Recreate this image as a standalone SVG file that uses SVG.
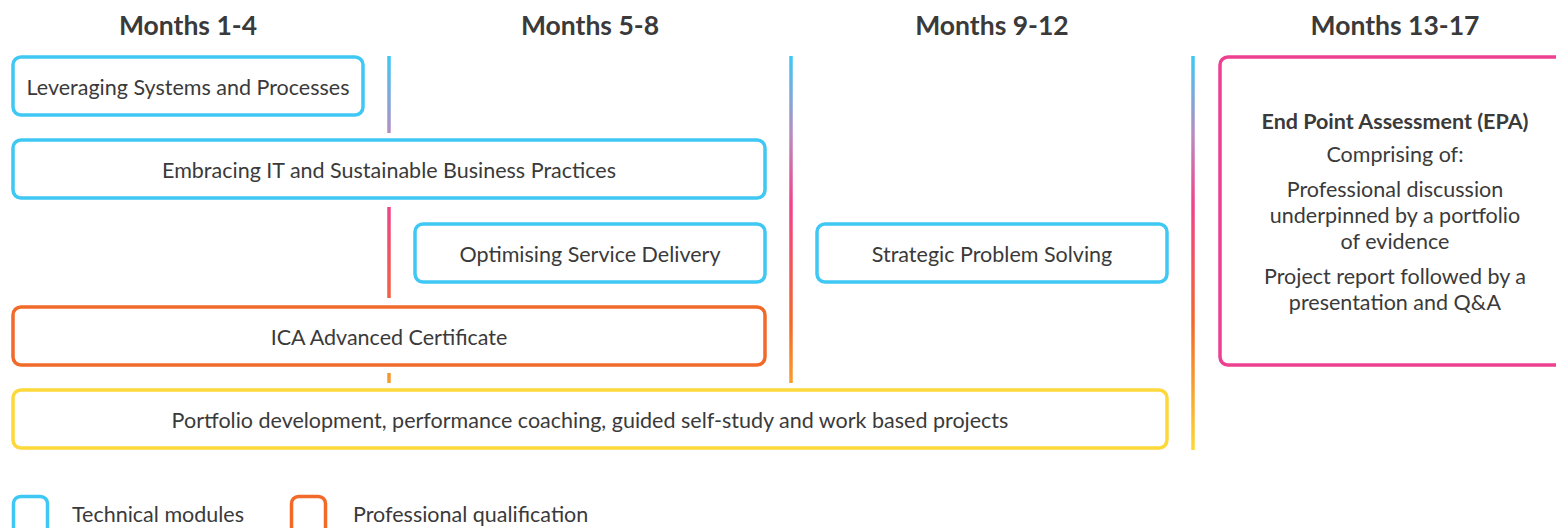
<svg xmlns="http://www.w3.org/2000/svg" width="1556" height="528" viewBox="0 0 1556 528">
  <defs>
    <linearGradient id="tl" gradientUnits="userSpaceOnUse" x1="0" y1="56" x2="0" y2="450">
      <stop offset="0" stop-color="#3cc8f5"/>
      <stop offset="0.2" stop-color="#b98cc0"/>
      <stop offset="0.38" stop-color="#f0428a"/>
      <stop offset="0.68" stop-color="#f26a2a"/>
      <stop offset="1" stop-color="#fdd835"/>
    </linearGradient>
  </defs>
  <style>
    .hdr { font-family: Lato, "Liberation Sans", sans-serif; font-weight: 700; font-size: 26.5px; fill: #3a3a3a; text-anchor: middle; }
    .lbl { font-family: Lato, "Liberation Sans", sans-serif; font-size: 21.5px; fill: #3a3a3a; text-anchor: middle; }
    .lgd { font-family: Lato, "Liberation Sans", sans-serif; font-size: 21.5px; fill: #3a3a3a; }
    .box { fill: #ffffff; stroke-width: 3.5; }
    .tech { stroke: #40c8f4; }
    .prof { stroke: #f26a2a; }
    .port { stroke: #fdd83a; }
    .epa { stroke: #ee4090; }
    .tl { stroke: url(#tl); stroke-width: 3.5; fill: none; }
  </style>

  <g id="headers">
    <text class="hdr" x="188" y="35">Months 1-4</text>
    <text class="hdr" x="590" y="35">Months 5-8</text>
    <text class="hdr" x="992" y="35">Months 9-12</text>
    <text class="hdr" x="1395" y="35">Months 13-17</text>
  </g>

  <g id="connectors">
    <line class="tl" x1="389" y1="56" x2="389" y2="133"/>
    <line class="tl" x1="389" y1="207" x2="389" y2="298"/>
    <line class="tl" x1="389" y1="373" x2="389" y2="383"/>
    <line class="tl" x1="791" y1="56" x2="791" y2="383"/>
    <line class="tl" x1="1193" y1="56" x2="1193" y2="450"/>
  </g>

  <g id="leveraging">
    <rect class="box tech" x="13" y="57" width="350" height="58" rx="8"/>
    <text class="lbl" x="188" y="94.5">Leveraging Systems and Processes</text>
  </g>
  <g id="embracing">
    <rect class="box tech" x="13" y="140" width="752" height="58" rx="8"/>
    <text class="lbl" x="389" y="177.5">Embracing IT and Sustainable Business Practices</text>
  </g>
  <g id="optimising">
    <rect class="box tech" x="415" y="224" width="350" height="58" rx="8"/>
    <text class="lbl" x="590" y="261.5">Optimising Service Delivery</text>
  </g>
  <g id="strategic">
    <rect class="box tech" x="817" y="224" width="350" height="58" rx="8"/>
    <text class="lbl" x="992" y="261.5">Strategic Problem Solving</text>
  </g>
  <g id="ica">
    <rect class="box prof" x="13" y="307" width="752" height="58" rx="8"/>
    <text class="lbl" x="389" y="344.5">ICA Advanced Certificate</text>
  </g>
  <g id="portfolio">
    <rect class="box port" x="13" y="390" width="1154" height="58" rx="8"/>
    <text class="lbl" x="590" y="427.5">Portfolio development, performance coaching, guided self-study and work based projects</text>
  </g>
  <g id="epa">
    <rect class="box epa" x="1220" y="57" width="350" height="308" rx="8"/>
    <text class="lbl" x="1395" y="129" font-weight="700" font-size="22.5px">End Point Assessment (EPA)</text>
    <text class="lbl" x="1395" y="162">Comprising of:</text>
    <text class="lbl" x="1395" y="197">Professional discussion</text>
    <text class="lbl" x="1395" y="223">underpinned by a portfolio</text>
    <text class="lbl" x="1395" y="249">of evidence</text>
    <text class="lbl" x="1395" y="284">Project report followed by a</text>
    <text class="lbl" x="1395" y="310">presentation and Q&amp;A</text>
  </g>

  <g id="legend">
    <g id="legend-technical">
      <rect class="box tech" x="13.5" y="496.5" width="34" height="45" rx="7"/>
      <text class="lgd" x="72" y="522">Technical modules</text>
    </g>
    <g id="legend-professional">
      <rect class="box prof" x="291.5" y="496.5" width="34" height="45" rx="7"/>
      <text class="lgd" x="353" y="522">Professional qualification</text>
    </g>
  </g>
</svg>
